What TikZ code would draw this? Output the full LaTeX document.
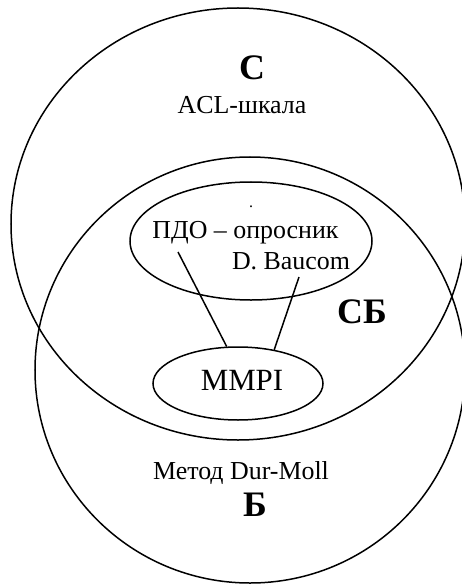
\documentclass[tikz,border=0pt]{standalone}
\usepackage{fontspec}
\setmainfont{Liberation Serif}
\usetikzlibrary{shapes.geometric}
\tikzset{
  ring/.style={draw, ellipse, inner sep=0pt, line width=1.5bp},
  txt/.style={inner sep=0pt, anchor=base, font=\fontsize{26}{30}\selectfont},
  bigtxt/.style={inner sep=0pt, anchor=base, font=\fontsize{31}{36}\selectfont},
  boldtxt/.style={inner sep=0pt, anchor=base, font=\fontsize{36}{40}\selectfont\bfseries},
  link/.style={line width=1.5bp}
}
\begin{document}
\begin{tikzpicture}[x=1bp, y=-1bp]
\useasboundingbox (0,0) rectangle (462,585);
\fill[white] (0,0) rectangle (462,585);
\clip (0,0) rectangle (462,585);
% big circles
\node[ring, minimum width=454bp, minimum height=432bp] (setC) at (238,224) {};
\node[ring, minimum width=430bp, minimum height=426bp] (setB) at (250,370) {};
% inner ellipses
\node[ring, minimum width=242bp, minimum height=118bp] (pdo) at (251,241) {};
\node[ring, minimum width=170bp, minimum height=73bp] (mmpi) at (238,383.5) {};
% texts
\node[boldtxt] (tC) at (252,80) {С};
\node[txt] (tacl) at (242,114) {ACL-шкала};
\node[inner sep=0pt, anchor=base, font=\fontsize{16}{18}\selectfont] (tdot) at (251,207) {.};
\node[txt] (tpdo) at (245.5,238) {ПДО – опросник};
\node[txt] (tbau) at (291,269) {D. Baucom};
\node[boldtxt] (tCB) at (362,323) {СБ};
\node[bigtxt] (tmmpi) at (242,390) {MMPI};
\node[txt] (tdur) at (241,479) {Метод Dur-Moll};
\node[boldtxt] (tB) at (255,516) {Б};
% connectors
\coordinate (l1) at (178,252);
\coordinate (l2) at (299,277);
\draw[link] (l1) -- (mmpi.107);
\draw[link] (l2) -- (mmpi.43);
\end{tikzpicture}
\end{document}
